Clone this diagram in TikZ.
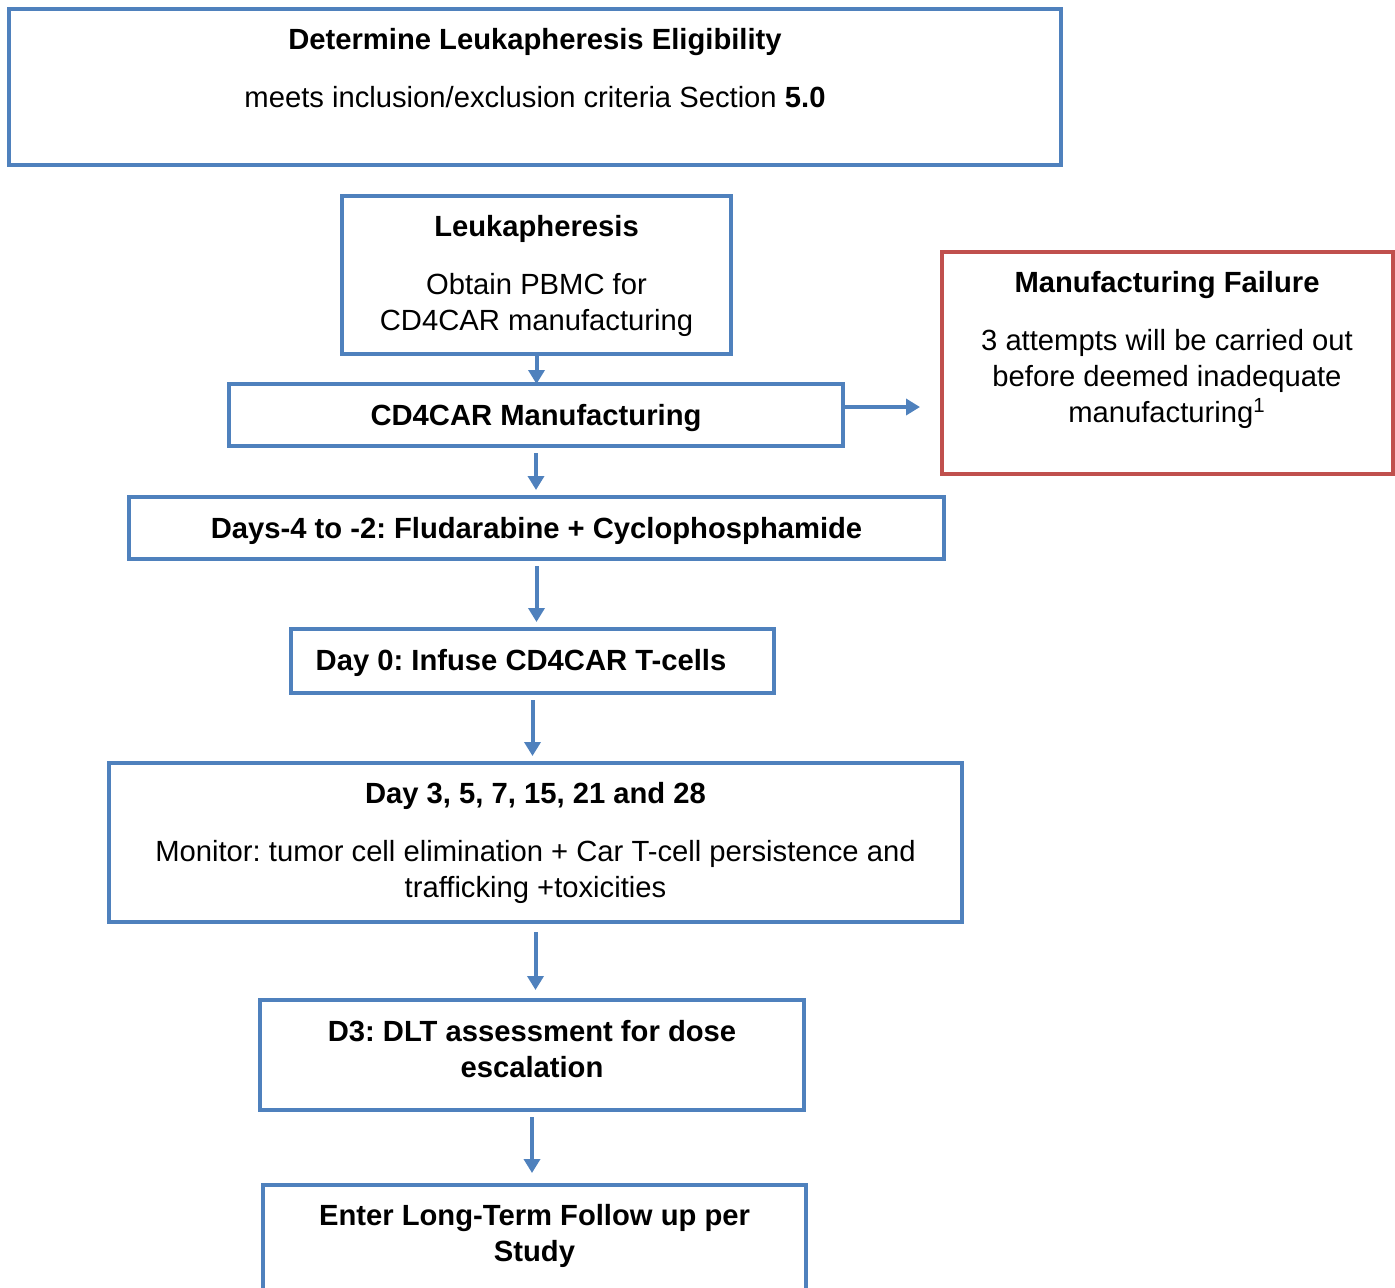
\documentclass[tikz,border=0pt]{standalone}
\usepackage{fontspec}
\setmainfont{Liberation Sans}
\usepackage{xcolor}
\usepackage{tikz}
\usetikzlibrary{arrows.meta, positioning, calc}
\definecolor{boxblue}{HTML}{4F81BD}
\definecolor{boxred}{HTML}{C0504D}
\frenchspacing

\begin{document}
\begin{tikzpicture}[x=0.5pt, y=-0.5pt,
  box/.style={draw=boxblue, line width=2pt, rectangle, inner sep=0pt, outer sep=0pt,
    text height=10.7pt, text depth=0pt, font=\fontsize{14.6}{18}\selectfont\bfseries},
  failbox/.style={box, draw=boxred},
  txt/.style={align=center, inner sep=0pt, font=\fontsize{14.6}{18}\selectfont},
  flow/.style={draw=boxblue, line width=2pt, -{Triangle[length=7pt, width=8pt]}}]
  \useasboundingbox (0,0) rectangle (1395,1287);

  % Boxes
  \node[box, minimum width=526pt, minimum height=78pt] (elig) at (535,87) {};
  \node[box, minimum width=194.5pt, minimum height=79pt] (leuk) at (536.5,275) {};
  \node[box, minimum width=307pt, minimum height=31pt] (mfg) at (536,415) {CD4CAR Manufacturing};
  \node[failbox, minimum width=225.5pt, minimum height=111pt] (fail) at (1167.5,363) {};
  \node[box, minimum width=407.5pt, minimum height=31pt] (lymph) at (536.5,528)
    {Days-4 to -2: Fludarabine + Cyclophosphamide};
  \node[box, minimum width=241.5pt, minimum height=32pt] (infuse) at (532.5,661) {};
  \node[box, minimum width=426.5pt, minimum height=79.5pt] (monitor) at (535.5,842.5) {};
  \node[box, minimum width=272pt, minimum height=55pt] (dlt) at (532,1055) {};
  \node[box, minimum width=271.5pt, minimum height=55pt] (ltfu) at (534.5,1240) {};

  % Box texts
  \node[txt] (elig-t) at (535,68) {\textbf{Determine Leukapheresis Eligibility}\\[11pt]
    meets inclusion/exclusion criteria Section \textbf{5.0}};
  \node[txt] (leuk-t) at (536.5,276) {\textbf{Leukapheresis}\\[11pt]
    Obtain PBMC for\\ CD4CAR manufacturing};
  \node[txt] (fail-t) at (1167,350) {\textbf{Manufacturing Failure}\\[11pt]
    3 attempts will be carried out\\ before deemed inadequate\\
    manufacturing\textsuperscript{1}};
  \node[txt, font=\fontsize{14.6}{18}\selectfont\bfseries] (infuse-t) at (521,663)
    {Day 0: Infuse CD4CAR T-cells};
  \node[txt] (monitor-t) at (535.5,843) {\textbf{Day 3, 5, 7, 15, 21 and 28}\\[11pt]
    Monitor: tumor cell elimination + Car T-cell persistence and\\ trafficking +toxicities};
  \node[txt, font=\fontsize{14.6}{18}\selectfont\bfseries] (dlt-t) at (532,1049)
    {D3: DLT assessment for dose\\ escalation};
  \node[txt, font=\fontsize{14.6}{18}\selectfont\bfseries] (ltfu-t) at (534.5,1236)
    {Enter Long-Term Follow up per\\ Study};

  % Arrows
  \draw[flow] (leuk.south) -- (leuk.south |- mfg.north);
  \draw[flow, shorten <=3.5pt, shorten >=3.5pt] (mfg.south) -- (mfg.south |- lymph.north);
  \draw[flow, shorten <=3.5pt, shorten >=3.5pt] (lymph.south) -- (lymph.south |- infuse.north);
  \draw[flow, shorten <=3.5pt, shorten >=3.5pt] (infuse.south) -- (infuse.south |- monitor.north);
  \draw[flow, shorten <=5pt, shorten >=5pt] (monitor.south) -- (monitor.south |- dlt.north);
  \draw[flow, shorten <=3.5pt, shorten >=6pt] (dlt.south) -- (dlt.south |- ltfu.north);
  \draw[flow, shorten >=11pt] ([yshift=4pt]mfg.east) -- ([yshift=4pt]mfg.east -| fail.west);
\end{tikzpicture}
\end{document}
